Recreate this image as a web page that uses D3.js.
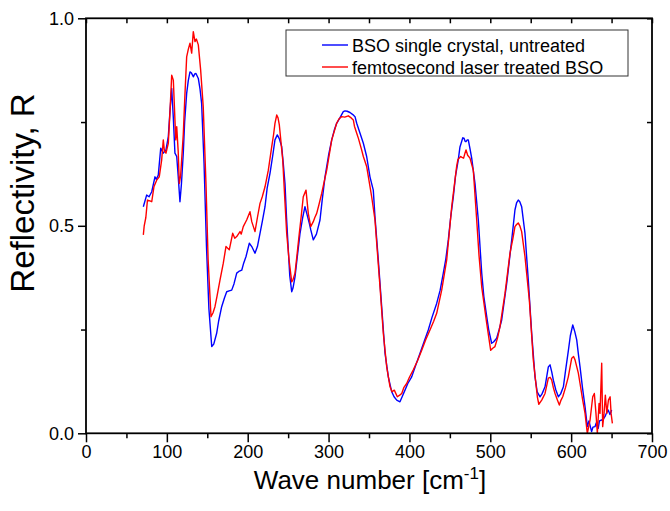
<!DOCTYPE html>
<html>
<head>
<meta charset="utf-8">
<script src="https://cdn.jsdelivr.net/npm/d3@7/dist/d3.min.js"></script>
<style>
  body { margin: 0; background: #fff; }
  text { font-family: "Liberation Sans", Arial, sans-serif; fill: #000; }
</style>
</head>
<body>
<svg id="chart" width="670" height="511"></svg>
<script>
// Reflectivity spectra of BSO: untreated crystal vs femtosecond-laser treated
const untreatedWave = [70.9,75,78,81.3,85.3,87,89.4,92.4,95.6,98.9,101.8,104,106,108,110,112.2,114,116.2,118,120.3,122,124.5,126.5,128.6,130.5,132.7,134.5,136,138.9,141,143,146,149,152,155.5,158,161.6,164,167.8,171,174,177,180.2,183,186.4,189,192.6,195,197.9,202,205,209,212,215.2,218,221.4,224,227.6,231,233.7,236.6,239,242,244,246.1,248,250.2,252,254.4,256,258.5,261,264.7,268,270.8,273,276.2,278,281.1,285,289.4,292,295.6,300,303.9,307,310,314,318.2,320.3,323,326.5,330,332.7,334.8,338.9,343,347.1,351.2,355.3,357.4,361.5,365.7,369.8,373.9,378.1,381,384.3,388.3,391,394.5,398,402.8,408,413.1,418,423.3,428,433.7,438,441.9,445,448.1,451,454.3,457,460.4,462.5,464.6,466,467.5,469,470,471.5,472.8,475,477,481.1,485.2,489.4,492,495.6,498,501.7,504,507.9,511,514.1,520.3,526.5,530.5,532.5,534.6,536.5,538.8,542.9,547,551.2,555.3,558,561.5,564,567.7,571.8,573.9,576,578,581,584.2,587,590.4,593,596.6,599,602,604.5,606.9,609,611,614,617.2,620,622,625.3,627,629.5,631,633.5,635,637.7,640,641.8,644,645.9,648,650.1];
const untreatedR = [.546,.574,.57,.582,.618,.612,.622,.687,.675,.683,.715,.78,.831,.76,.675,.667,.62,.558,.6,.675,.75,.819,.85,.871,.868,.859,.866,.867,.855,.83,.795,.65,.45,.3,.209,.215,.241,.27,.305,.325,.341,.343,.345,.36,.386,.39,.393,.41,.426,.458,.45,.434,.45,.482,.51,.546,.59,.627,.67,.707,.719,.71,.691,.65,.602,.52,.442,.38,.341,.35,.377,.42,.482,.52,.546,.53,.506,.49,.466,.48,.514,.56,.618,.67,.707,.73,.747,.76,.775,.777,.776,.773,.768,.763,.747,.723,.699,.667,.618,.586,.522,.418,.305,.193,.136,.1,.088,.08,.076,.088,.104,.12,.136,.165,.193,.22,.249,.28,.313,.345,.386,.42,.466,.52,.57,.62,.659,.69,.703,.712,.711,.703,.703,.707,.707,.685,.663,.602,.514,.386,.33,.281,.25,.217,.22,.229,.25,.273,.361,.466,.538,.555,.562,.558,.546,.482,.369,.241,.136,.1,.088,.095,.112,.16,.165,.148,.128,.105,.088,.095,.112,.15,.2,.235,.261,.245,.225,.19,.16,.11,.064,.016,.03,.004,.015,.016,.025,.012,.03,.032,.035,.04,.05,.056,.045,.056];

const treatedWave = [70.9,72,74,76,79,81.3,84,87.4,90.6,93.6,95.6,97,98.9,101.8,104,106,108,111,112.2,114,115.4,117,120.3,122,124.5,126.5,128.6,130.7,132.7,134.8,136.5,138.9,141.8,145,148.4,151,154.6,157,159.5,162,165.7,169.8,173.1,177.2,181.4,184,186.4,190.5,192,194.5,198.7,202.8,205,209,212,215.2,218,221.4,225.5,229.7,232,233.7,235.9,237.5,239.1,243.3,246,248.2,251,254.4,256,258.5,261,263.8,266,268.7,272.1,274.9,277.9,281.1,283,285.3,288,291.5,295,297.7,303.9,310,313,316.2,320,324.4,328,330.6,332,334.8,337,340.9,343,347.1,351.3,353.3,357.4,363.6,367.7,371.9,376,378.5,381.3,385,388,390.5,393,396.6,400,404.8,410,415.2,420,425.4,430,433.7,439.9,446.1,452.3,458.4,460,463.4,465,467,468.7,470,472,474.9,479,483.2,486,489.4,495.6,500.5,503,505.8,509,512,518.2,524.4,528,530.5,532.5,534.6,536.5,538.8,542.9,548.3,553.2,558.2,560,563.6,567.7,571.8,574,576,578,580.1,583,585.4,587.5,589.6,593,596.5,600.7,603,604.8,608.9,611,614.3,617.2,620,623.4,626.7,628.7,630.7,632.4,634.5,635.7,637.8,639,640.7,642.3,644.1,646.1,648.2,649.4,651];
const treatedR = [.478,.5,.52,.562,.56,.558,.594,.61,.618,.659,.707,.68,.675,.699,.78,.863,.851,.707,.739,.68,.602,.62,.72,.8,.907,.925,.94,.916,.968,.944,.95,.936,.875,.787,.6,.42,.281,.29,.305,.33,.369,.41,.45,.442,.482,.47,.474,.486,.48,.498,.514,.534,.51,.486,.52,.554,.57,.594,.634,.691,.72,.747,.767,.76,.743,.659,.56,.482,.42,.365,.37,.386,.43,.482,.52,.57,.586,.53,.498,.51,.52,.53,.55,.578,.61,.634,.707,.747,.758,.763,.762,.765,.76,.755,.74,.723,.71,.683,.667,.643,.594,.57,.514,.353,.241,.16,.112,.1,.104,.088,.092,.096,.11,.12,.135,.153,.175,.2,.225,.249,.27,.289,.345,.418,.546,.643,.66,.667,.665,.663,.675,.683,.67,.663,.634,.514,.43,.353,.265,.2,.205,.209,.23,.257,.337,.434,.47,.498,.503,.507,.5,.486,.426,.321,.177,.088,.07,.08,.096,.133,.135,.128,.11,.096,.08,.068,.08,.088,.11,.136,.181,.185,.177,.145,.12,.08,.048,0,.032,.088,.096,.048,0,.072,.048,.169,.016,.048,.092,.048,.08,.088,.048,.024];

const xMajorTicks = [0, 100, 200, 300, 400, 500, 600, 700];
const xMinorTicks = [50, 150, 250, 350, 450, 550, 650];
const yMajorTicks = [0, 0.5, 1.0];
const yMinorTicks = [0.25, 0.75];

const seriesNames = ["BSO single crystal, untreated", "femtosecond laser treated BSO"];
const seriesColors = ["#0000ff", "#ff0000"];

const svg = d3.select("#chart");
const plotLeft = 86, plotRight = 652, plotTop = 18.3, plotBottom = 433.3;

const x = d3.scaleLinear().domain([0, 700]).range([plotLeft, plotRight]);
const y = d3.scaleLinear().domain([0, 1]).range([plotBottom, plotTop]);

const series = [
  { name: seriesNames[0], color: seriesColors[0], pts: untreatedWave.map((w, i) => [w, untreatedR[i]]) },
  { name: seriesNames[1], color: seriesColors[1], pts: treatedWave.map((w, i) => [w, treatedR[i]]) }
];

const line = d3.line().x(d => x(d[0])).y(d => y(d[1]));

// spectra: untreated below, treated drawn over it
svg.append("g").selectAll("path").data(series).join("path")
  .attr("d", d => line(d.pts))
  .attr("fill", "none")
  .attr("stroke", d => d.color)
  .attr("stroke-width", 1.4)
  .attr("stroke-linejoin", "round");

// axes
function styleAxis(g) {
  g.select(".domain").remove();
  g.selectAll(".tick line").attr("stroke", "#000").attr("stroke-width", 1.5);
  g.selectAll(".tick text").style("font-size", "18px").style("font-family", '"Liberation Sans", Arial, sans-serif');
}

svg.append("g").attr("transform", `translate(0,${plotBottom})`)
  .call(d3.axisBottom(x).tickValues(xMajorTicks).tickSize(9).tickPadding(3).tickFormat(d3.format("d")))
  .call(styleAxis);
svg.append("g").attr("transform", `translate(0,${plotBottom})`)
  .call(d3.axisBottom(x).tickValues(xMinorTicks).tickSize(5).tickFormat(""))
  .call(styleAxis);

svg.append("g").attr("transform", `translate(${plotLeft},0)`)
  .call(d3.axisLeft(y).tickValues(yMajorTicks).tickSize(8).tickPadding(4).tickFormat(d3.format(".1f")))
  .call(styleAxis);
svg.append("g").attr("transform", `translate(${plotLeft},0)`)
  .call(d3.axisLeft(y).tickValues(yMinorTicks).tickSize(5).tickFormat(""))
  .call(styleAxis);

// mirrored inward ticks on top and right
svg.append("g").attr("transform", `translate(0,${plotTop})`)
  .call(d3.axisBottom(x).tickValues(xMajorTicks.concat(xMinorTicks)).tickSize(5).tickFormat(""))
  .call(styleAxis);
svg.append("g").attr("transform", `translate(${plotRight},0)`)
  .call(d3.axisLeft(y).tickValues(yMajorTicks.concat(yMinorTicks)).tickSize(5).tickFormat(""))
  .call(styleAxis);

// frame
svg.append("rect")
  .attr("x", plotLeft).attr("y", plotTop)
  .attr("width", plotRight - plotLeft).attr("height", plotBottom - plotTop)
  .attr("fill", "none").attr("stroke", "#000").attr("stroke-width", 1.8);

// axis titles
const xt = svg.append("text")
  .attr("x", 370).attr("y", 489)
  .attr("text-anchor", "middle")
  .style("font-size", "26px");
xt.append("tspan").text("Wave number [cm");
xt.append("tspan").attr("dy", -10).style("font-size", "17px").text("-1");
xt.append("tspan").attr("dy", 10).text("]");

svg.append("text")
  .attr("transform", "translate(34,193) rotate(-90)")
  .attr("text-anchor", "middle")
  .style("font-size", "33px")
  .text("Reflectivity, R");

// legend
const legend = svg.append("g");
legend.append("rect")
  .attr("x", 286).attr("y", 30).attr("width", 342).attr("height", 46)
  .attr("fill", "#fff").attr("stroke", "#333").attr("stroke-width", 1);
series.forEach((s, i) => {
  const ly = 45 + i * 22;
  legend.append("line")
    .attr("x1", 322).attr("x2", 348).attr("y1", ly).attr("y2", ly)
    .attr("stroke", s.color).attr("stroke-width", 1.4);
  legend.append("text")
    .attr("x", 352).attr("y", ly + 6.5)
    .style("font-size", "18px")
    .text(s.name);
});
</script>
</body>
</html>
